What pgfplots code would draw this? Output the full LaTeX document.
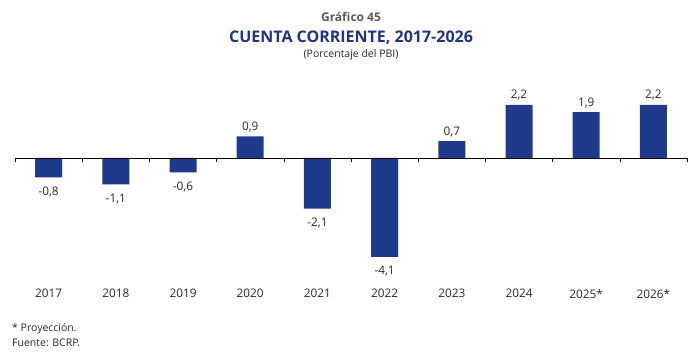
\documentclass[border=0pt]{standalone}
\usepackage{pgfplots}
\pgfplotsset{compat=1.18}
\usepackage{fontspec}
\setmainfont{Open Sans}
\definecolor{barblue}{RGB}{31,58,138}
\definecolor{titleblue}{RGB}{30,52,135}
\definecolor{titlegray}{RGB}{90,90,90}
\definecolor{txt}{RGB}{40,40,40}
\begin{document}
\begin{tikzpicture}
\useasboundingbox (0pt,0pt) rectangle (700pt,-357pt);
\node[font=\bfseries\fontsize{12}{14}\selectfont, text=titlegray] at (351pt,-17pt) {Gráfico 45};
\node[font=\bfseries\fontsize{16}{18}\selectfont, text=titleblue] at (351pt,-38pt) {CUENTA CORRIENTE, 2017-2026};
\node[font=\fontsize{10.5}{12}\selectfont, text=txt] at (351pt,-55pt) {(Porcentaje del PBI)};
\node[anchor=west, font=\fontsize{10.5}{12}\selectfont, text=txt, inner sep=0pt] at (12pt,-329pt) {* Proyección.};
\node[anchor=west, font=\fontsize{10.5}{12}\selectfont, text=txt, inner sep=0pt] at (12pt,-343pt) {Fuente: BCRP.};
\begin{axis}[
  at={(15pt,-285.7pt)}, anchor=south west,
  scale only axis, width=672pt, height=195.2pt,
  xmin=-0.5, xmax=9.5, ymin=-5.3, ymax=2.8,
  axis line style={draw=none},
  ytick=\empty,
  xtick={0,...,9},
  xticklabels={2017,2018,2019,2020,2021,2022,2023,2024,2025*,2026*},
  major tick length=0pt,
  ticklabel style={font=\fontsize{11.8}{13}\selectfont, text=txt},
  /pgf/number format/assume math mode=true,
  clip=false,
]
\addplot[ybar, bar width=27pt, fill=barblue, draw=none,
  nodes near coords, nodes near coords align={vertical},
  every node near coord/.append style={font=\fontsize{11.8}{13}\selectfont, text=txt, yshift=1pt},
  point meta=y,
  /pgf/number format/.cd, fixed, fixed zerofill, precision=1, use comma, assume math mode=true]
  coordinates {(3,0.9) (6,0.7) (7,2.2) (8,1.9) (9,2.2)};
\addplot[ybar, bar width=27pt, fill=barblue, draw=none,
  nodes near coords, nodes near coords align={vertical},
  every node near coord/.append style={font=\fontsize{11.8}{13}\selectfont, text=txt, yshift=-6pt},
  point meta=y,
  /pgf/number format/.cd, fixed, fixed zerofill, precision=1, use comma, assume math mode=true]
  coordinates {(0,-0.8) (1,-1.1) (2,-0.6) (4,-2.1) (5,-4.1)};
\addplot[black, thin, no marks] coordinates {(-0.5,0) (9.5,0)};
\addplot[black, thin, ycomb, no marks] coordinates {(-0.5,-0.15) (0.5,-0.15) (1.5,-0.15) (2.5,-0.15) (3.5,-0.15) (4.5,-0.15) (5.5,-0.15) (6.5,-0.15) (7.5,-0.15) (8.5,-0.15) (9.5,-0.15)};
\end{axis}
\end{tikzpicture}
\end{document}
